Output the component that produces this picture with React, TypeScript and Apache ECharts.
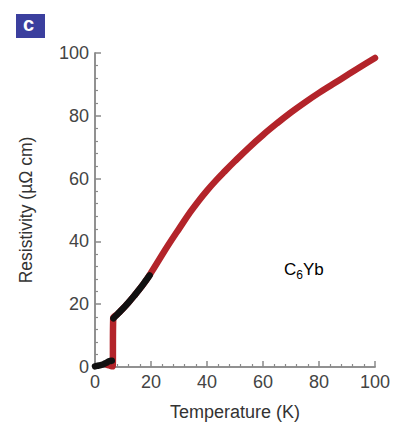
import React, { useEffect, useRef } from "react";
import * as echarts from "echarts";

// Red dataset (full range, with the superconducting drop at ~6.5 K)
const redT = [4.5, 5.5, 6.3, 6.5, 8, 10, 12, 14, 16, 18, 20, 23, 26, 30, 34, 37, 40, 43, 46, 50, 55, 60, 65, 70, 75, 80, 85, 90, 95, 100];
const redRho = [0.6, 0.4, 0.2, 15.5, 16.8, 18.6, 20.6, 22.7, 24.9, 27.3, 30, 34.3, 38.6, 44, 49.3, 52.9, 56.2, 59.2, 62, 65.6, 69.9, 73.9, 77.6, 81.1, 84.3, 87.3, 90.1, 92.9, 95.7, 98.4];

// Black dataset (low temperature)
const blackLowT = [0, 1, 2, 3, 4, 5, 6];
const blackLowRho = [0.2, 0.4, 0.6, 0.9, 1.3, 1.8, 2.0];
const blackHighT = [6.6, 8, 10, 12, 14, 16, 18, 19.5];
const blackHighRho = [15.5, 16.8, 18.6, 20.6, 22.7, 24.9, 27.3, 29.2];

const xTicks = [0, 20, 40, 60, 80, 100];
const yTicks = [0, 20, 40, 60, 80, 100];

const FONT = "'Liberation Sans Narrow', 'Liberation Sans', Arial, sans-serif";

export default function App() {
  const ref = useRef<HTMLDivElement>(null);
  useEffect(() => {
    if (!ref.current) return;
    const chart = echarts.init(ref.current, null, { renderer: "svg" });
    const pair = (xs: number[], ys: number[]) => xs.map((x, i) => [x, ys[i]]);
    const blackData = [...pair(blackLowT, blackLowRho), [null, null], ...pair(blackHighT, blackHighRho)];
    const axisColor = "#8a8a8a";
    chart.setOption({
      animation: false,
      backgroundColor: "#ffffff",
      grid: { left: 95, right: 17, top: 53, bottom: 58 },
      xAxis: [
        {
          type: "value",
          min: 0,
          max: 100,
          interval: 20,
          position: "bottom",
          name: "Temperature (K)",
          nameLocation: "middle",
          nameGap: 36,
          nameTextStyle: { fontFamily: FONT, fontSize: 18, color: "#333" },
          axisLine: { show: true, lineStyle: { color: axisColor, width: 1.5 } },
          axisTick: { show: true, inside: true, length: 6, lineStyle: { color: axisColor, width: 1.5 } },
          minorTick: { show: true, splitNumber: 5, length: 3, lineStyle: { color: axisColor, width: 1.2 } },
          splitLine: { show: false },
          axisLabel: {
            fontFamily: FONT,
            fontSize: 18,
            color: "#444",
            margin: 6,
            formatter: (v: number) => (xTicks.includes(v) ? String(v) : ""),
          },
        },
        {
          type: "value",
          min: 0,
          max: 100,
          position: "top",
          axisLine: { show: true, lineStyle: { color: axisColor, width: 1.5 } },
          axisTick: { show: false },
          axisLabel: { show: false },
          splitLine: { show: false },
        },
      ],
      yAxis: [
        {
          type: "value",
          min: 0,
          max: 100,
          interval: 20,
          position: "left",
          name: "Resistivity (µΩ cm)",
          nameLocation: "middle",
          nameGap: 60,
          nameTextStyle: { fontFamily: FONT, fontSize: 17.5, color: "#333" },
          axisLine: { show: true, lineStyle: { color: axisColor, width: 1.5 } },
          axisTick: { show: true, inside: true, length: 6, lineStyle: { color: axisColor, width: 1.5 } },
          minorTick: { show: true, splitNumber: 5, length: 3, lineStyle: { color: axisColor, width: 1.2 } },
          splitLine: { show: false },
          axisLabel: {
            fontFamily: FONT,
            fontSize: 18,
            color: "#444",
            margin: 6,
            formatter: (v: number) => (yTicks.includes(v) ? String(v) : ""),
          },
        },
        {
          type: "value",
          min: 0,
          max: 100,
          position: "right",
          axisLine: { show: true, lineStyle: { color: axisColor, width: 1.5 } },
          axisTick: { show: false },
          axisLabel: { show: false },
          splitLine: { show: false },
        },
      ],
      series: [
        {
          type: "line",
          data: pair(redT, redRho),
          showSymbol: false,
          smooth: 0.4,
          lineStyle: { color: "#b3242a", width: 6.5, cap: "round", join: "round" },
          z: 2,
        },
        {
          type: "line",
          data: blackData,
          showSymbol: false,
          connectNulls: false,
          smooth: 0.4,
          lineStyle: { color: "#111111", width: 6.5, cap: "round", join: "round" },
          z: 3,
        },
      ],
      graphic: [
        {
          type: "rect",
          left: 16,
          top: 14,
          shape: { width: 29, height: 24 },
          style: { fill: "#3b3f9e" },
        },
        {
          type: "text",
          left: 23,
          top: 14,
          style: { text: "c", fill: "#ffffff", font: "bold 20px 'Liberation Sans', Arial, sans-serif" },
        },
        {
          type: "text",
          left: 284,
          top: 261,
          style: {
            text: "{a|C}{b|6}{a|Yb}",
            rich: {
              a: { fontFamily: FONT, fontSize: 17, color: "#333" },
              b: { fontFamily: FONT, fontSize: 12, color: "#333", padding: [10, 0, 0, 0] },
            },
          },
        },
      ],
    });
    return () => chart.dispose();
  }, []);
  return <div ref={ref} style={{ position: "absolute", left: 0, top: 0, width: 393, height: 426 }} />;
}
